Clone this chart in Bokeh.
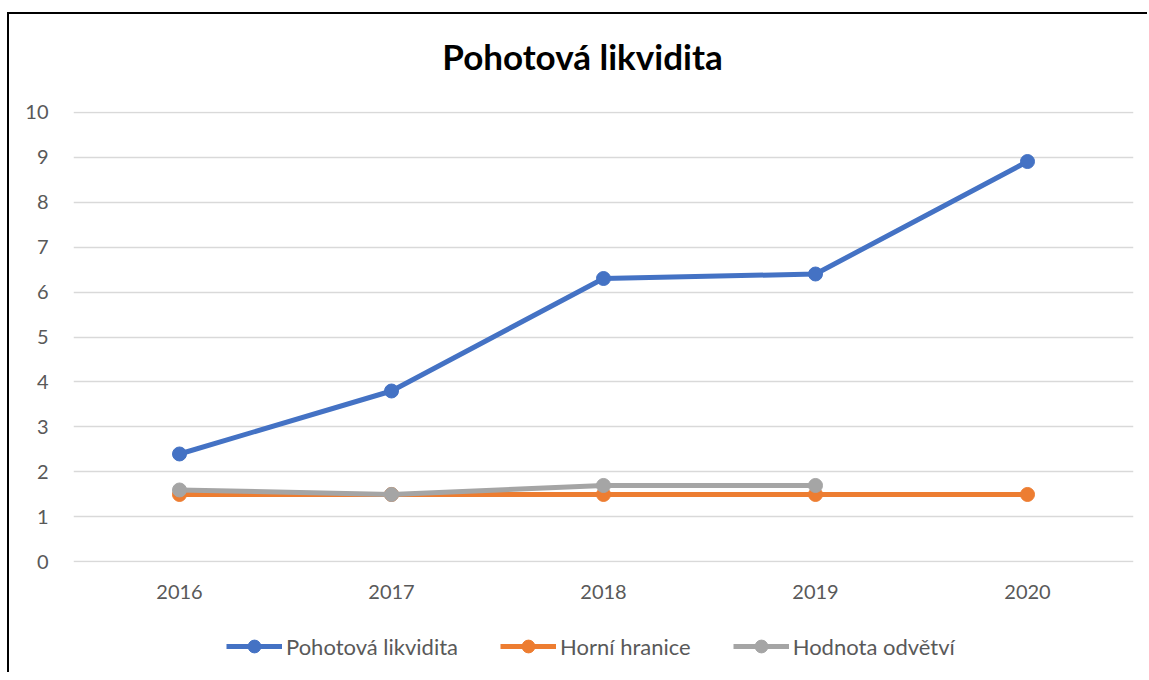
from bokeh.plotting import figure
from bokeh.models import Range1d, FactorRange, Legend, LegendItem, ColumnDataSource, Div
from bokeh.layouts import column, row
from bokeh.embed import file_html
from bokeh.resources import INLINE

years = ["2016", "2017", "2018", "2019", "2020"]
pohotova = [2.4, 3.8, 6.3, 6.4, 8.9]
horni = [1.5, 1.5, 1.5, 1.5, 1.5]
odvetvi_years = ["2016", "2017", "2018", "2019"]
odvetvi = [1.6, 1.5, 1.7, 1.7]
y_ticks = list(range(0, 11))
title_text = "Pohotová likvidita"

FONT = "Lato"
TXT = "#595959"
W = 1138

title_div = Div(text=title_text, width=W, height=84, margin=0,
                styles={"font-family": FONT, "font-size": "35px", "font-weight": "bold",
                        "color": "#000000", "text-align": "center", "line-height": "84px",
                        "padding-left": "9px", "box-sizing": "border-box"})

p = figure(width=W, height=522, x_range=FactorRange(factors=years),
           y_range=Range1d(-0.012, 10.012), output_backend="svg", toolbar_location=None,
           min_border_left=64, min_border_right=14, min_border_top=13, min_border_bottom=58)

p.outline_line_color = None
p.background_fill_color = "white"
p.border_fill_color = "white"

p.xgrid.grid_line_color = None
p.ygrid.grid_line_color = "#D9D9D9"
p.ygrid.grid_line_width = 1.3
p.yaxis.ticker = y_ticks

for ax in (p.xaxis, p.yaxis):
    ax.axis_line_color = None
    ax.major_tick_line_color = None
    ax.minor_tick_line_color = None
    ax.major_label_text_font = FONT
    ax.major_label_text_font_size = "20px"
    ax.major_label_text_color = TXT
p.yaxis.major_label_standoff = 19
p.xaxis.major_label_standoff = 16

series = [
    ("Pohotová likvidita", years, pohotova, "#4472C4"),
    ("Horní hranice", years, horni, "#ED7D31"),
    ("Hodnota odvětví", odvetvi_years, odvetvi, "#A5A5A5"),
]

# legend strip below the chart
lg = figure(width=W, height=52, x_range=Range1d(0, 1), y_range=Range1d(0, 1),
            output_backend="svg", toolbar_location=None,
            min_border_left=0, min_border_right=0, min_border_top=0, min_border_bottom=0)
lg.axis.visible = False
lg.grid.visible = False
lg.outline_line_color = None
lg.border_fill_color = "white"

items = []
for name, xs, ys, col in series:
    src = ColumnDataSource(dict(x=xs, y=ys))
    p.line("x", "y", source=src, line_color=col, line_width=5, line_join="round")
    p.scatter("x", "y", source=src, size=14, fill_color=col, line_color=col)
    # legend-only renderers, placed outside the visible range of the strip
    el = lg.line(x=[-5, -4], y=[-5, -4], line_color=col, line_width=5)
    es = lg.scatter(x=[-5], y=[-5], size=14, fill_color=col, line_color=col)
    items.append(LegendItem(label=name, renderers=[el, es]))

legend = Legend(items=items, orientation="horizontal", location=(153, 10),
                glyph_width=56, glyph_height=32, label_standoff=4, spacing=42,
                padding=0, margin=0, border_line_color=None, background_fill_alpha=0,
                label_text_font=FONT, label_text_font_size="22px", label_text_color=TXT)
lg.add_layout(legend, "center")

# chart-area frame: top and left black rules
top_bar = Div(text="", width=W + 2, height=2, margin=0, styles={"background-color": "#000000"})
left_bar = Div(text="", width=2, height=658, margin=0, styles={"background-color": "#000000"})

body = column(title_div, p, lg, spacing=0, margin=0)
layout = column(top_bar, row(left_bar, body, spacing=0, margin=0), spacing=0, margin=(12, 0, 0, 7))
open("out.html", "w").write(file_html(layout, INLINE))
